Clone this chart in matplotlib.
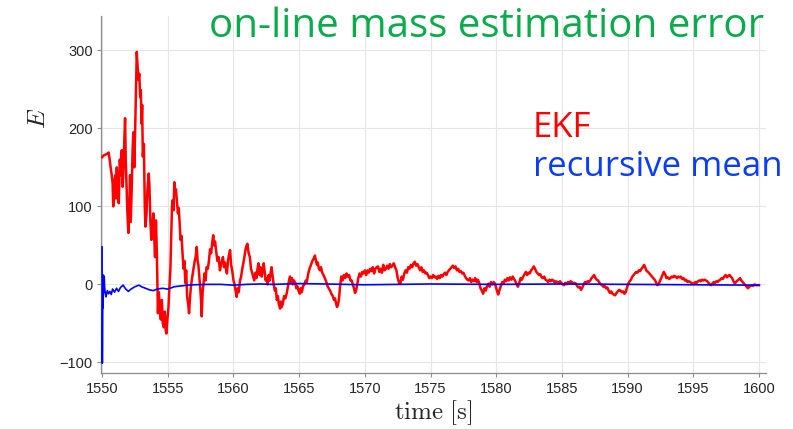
import matplotlib
matplotlib.use("Agg")
import matplotlib.pyplot as plt

# EKF on-line mass estimation error
ekf_time = [
    1550.00, 1550.10, 1550.20, 1550.35, 1550.50, 1550.58, 1550.65, 1550.72, 1550.80, 1550.85,
    1550.92, 1551.00, 1551.05, 1551.12, 1551.20, 1551.27, 1551.35, 1551.42, 1551.50, 1551.57,
    1551.63, 1551.70, 1551.75, 1551.80, 1551.87, 1551.93, 1552.00, 1552.07, 1552.13, 1552.18,
    1552.25, 1552.32, 1552.38, 1552.45, 1552.52, 1552.58, 1552.64, 1552.70, 1552.77, 1552.83,
    1552.90, 1552.95, 1553.00, 1553.05, 1553.10, 1553.18, 1553.25, 1553.30, 1553.38, 1553.45,
    1553.55, 1553.60, 1553.68, 1553.75, 1553.82, 1553.90, 1553.97, 1554.03, 1554.10, 1554.17,
    1554.25, 1554.32, 1554.40, 1554.47, 1554.55, 1554.62, 1554.70, 1554.77, 1554.85, 1554.90,
    1554.97, 1555.05, 1555.12, 1555.20, 1555.27, 1555.32, 1555.38, 1555.44, 1555.50, 1555.55,
    1555.62, 1555.70, 1555.77, 1555.83, 1555.90, 1555.97, 1556.05, 1556.12, 1556.20, 1556.27,
    1556.33, 1556.40, 1556.47, 1556.55, 1556.62, 1556.68, 1556.75, 1556.82, 1556.90, 1556.97,
    1557.05, 1557.12, 1557.20, 1557.27, 1557.33, 1557.40, 1557.47, 1557.53, 1557.58, 1557.65,
    1557.72, 1557.80, 1557.88, 1557.95, 1558.05, 1558.13, 1558.22, 1558.30, 1558.37, 1558.46,
    1558.53, 1558.60, 1558.70, 1558.78, 1558.87, 1558.97, 1559.05, 1559.12, 1559.20, 1559.28,
    1559.35, 1559.43, 1559.50, 1559.58, 1559.66, 1559.74, 1559.82, 1559.90, 1560.00, 1560.08,
    1560.16, 1560.24, 1560.32, 1560.40, 1560.50, 1560.58, 1560.67, 1560.75, 1560.83, 1560.92,
    1561.00, 1561.06, 1561.15, 1561.25, 1561.33, 1561.42, 1561.50, 1561.58, 1561.67, 1561.75,
    1561.83, 1561.90, 1561.98, 1562.06, 1562.15, 1562.23, 1562.30, 1562.38, 1562.45, 1562.52,
    1562.60, 1562.68, 1562.75, 1562.83, 1562.90, 1562.98, 1563.06, 1563.15, 1563.22, 1563.30,
    1563.38, 1563.45, 1563.55, 1563.62, 1563.67, 1563.75, 1563.85, 1563.95, 1564.06, 1564.15,
    1564.23, 1564.30, 1564.38, 1564.45, 1564.52, 1564.60, 1564.70, 1564.78, 1564.85, 1564.95,
    1565.05, 1565.12, 1565.20, 1565.30, 1565.40, 1565.50, 1565.58, 1565.67, 1565.75, 1565.83,
    1565.92, 1566.00, 1566.10, 1566.20, 1566.28, 1566.35, 1566.42, 1566.50, 1566.58, 1566.66,
    1566.75, 1566.85, 1566.95, 1567.05, 1567.15, 1567.25, 1567.35, 1567.45, 1567.55, 1567.65,
    1567.73, 1567.80, 1567.88, 1567.95, 1568.02, 1568.10, 1568.20, 1568.30, 1568.40, 1568.50,
    1568.60, 1568.70, 1568.80, 1568.90, 1569.00, 1569.08, 1569.17, 1569.25, 1569.33, 1569.42,
    1569.50, 1569.60, 1569.70, 1569.80, 1569.90, 1570.00, 1570.10, 1570.20, 1570.30, 1570.40,
    1570.50, 1570.60, 1570.70, 1570.80, 1570.90, 1571.00, 1571.10, 1571.20, 1571.30, 1571.40,
    1571.50, 1571.60, 1571.70, 1571.80, 1571.90, 1572.00, 1572.10, 1572.20, 1572.30, 1572.40,
    1572.50, 1572.60, 1572.70, 1572.80, 1572.90, 1573.00, 1573.10, 1573.20, 1573.30, 1573.40,
    1573.50, 1573.60, 1573.70, 1573.80, 1573.90, 1574.00, 1574.10, 1574.20, 1574.30, 1574.40,
    1574.50, 1574.60, 1574.70, 1574.80, 1574.90, 1575.00, 1575.10, 1575.20, 1575.30, 1575.40,
    1575.50, 1575.60, 1575.70, 1575.80, 1575.90, 1576.00, 1576.10, 1576.20, 1576.30, 1576.40,
    1576.50, 1576.60, 1576.70, 1576.80, 1576.90, 1577.00, 1577.10, 1577.20, 1577.30, 1577.40,
    1577.50, 1577.60, 1577.70, 1577.80, 1577.90, 1578.00, 1578.10, 1578.20, 1578.30, 1578.40,
    1578.50, 1578.60, 1578.70, 1578.80, 1578.90, 1579.00, 1579.10, 1579.20, 1579.30, 1579.40,
    1579.50, 1579.60, 1579.70, 1579.80, 1579.90, 1580.00, 1580.10, 1580.15, 1580.25, 1580.35,
    1580.45, 1580.55, 1580.65, 1580.75, 1580.85, 1580.95, 1581.05, 1581.15, 1581.25, 1581.35,
    1581.45, 1581.55, 1581.65, 1581.75, 1581.85, 1581.95, 1582.05, 1582.15, 1582.25, 1582.35,
    1582.45, 1582.55, 1582.65, 1582.75, 1582.85, 1582.95, 1583.05, 1583.15, 1583.25, 1583.35,
    1583.45, 1583.55, 1583.65, 1583.75, 1583.85, 1583.95, 1584.05, 1584.15, 1584.25, 1584.35,
    1584.45, 1584.55, 1584.65, 1584.75, 1584.85, 1584.95, 1585.05, 1585.15, 1585.25, 1585.35,
    1585.45, 1585.55, 1585.65, 1585.75, 1585.85, 1585.95, 1586.05, 1586.15, 1586.25, 1586.35,
    1586.45, 1586.55, 1586.65, 1586.75, 1586.85, 1586.95, 1587.05, 1587.15, 1587.25, 1587.35,
    1587.45, 1587.55, 1587.65, 1587.75, 1587.85, 1587.95, 1588.05, 1588.15, 1588.25, 1588.35,
    1588.45, 1588.55, 1588.65, 1588.75, 1588.85, 1588.95, 1589.05, 1589.15, 1589.25, 1589.35,
    1589.45, 1589.55, 1589.65, 1589.75, 1589.85, 1589.95, 1590.05, 1590.15, 1590.25, 1590.35,
    1590.45, 1590.55, 1590.65, 1590.75, 1590.85, 1590.95, 1591.05, 1591.15, 1591.25, 1591.35,
    1591.45, 1591.55, 1591.65, 1591.75, 1591.85, 1591.95, 1592.05, 1592.15, 1592.25, 1592.35,
    1592.45, 1592.55, 1592.65, 1592.75, 1592.85, 1592.95, 1593.05, 1593.15, 1593.25, 1593.35,
    1593.45, 1593.55, 1593.65, 1593.75, 1593.85, 1593.95, 1594.05, 1594.15, 1594.25, 1594.35,
    1594.45, 1594.55, 1594.65, 1594.75, 1594.85, 1594.95, 1595.05, 1595.15, 1595.25, 1595.35,
    1595.45, 1595.55, 1595.65, 1595.75, 1595.85, 1595.95, 1596.05, 1596.15, 1596.25, 1596.35,
    1596.45, 1596.55, 1596.65, 1596.75, 1596.85, 1596.95, 1597.05, 1597.15, 1597.25, 1597.35,
    1597.45, 1597.55, 1597.65, 1597.75, 1597.85, 1597.95, 1598.05, 1598.15, 1598.25, 1598.35,
    1598.45, 1598.55, 1598.65, 1598.75, 1598.85, 1598.95, 1599.05, 1599.15, 1599.25, 1599.35,
    1599.45, 1599.55, 1599.65, 1599.75, 1599.85, 1600.00,
]
ekf_error = [
    163, 165, 166, 167, 169, 160, 150, 142, 130, 100,
    128, 140, 110, 150, 118, 104, 160, 140, 172, 125,
    150, 185, 213, 160, 121, 91, 66, 100, 140, 80,
    120, 170, 195, 150, 200, 250, 298, 280, 262, 270,
    240, 249, 206, 230, 164, 180, 100, 74, 90, 121,
    142, 128, 80, 57, 70, 91, 60, 35, 82, 40,
    -37, -10, -30, -45, -20, -50, -55, -35, -60, -63,
    -45, -30, -5, 20, 70, 100, 108, 95, 131, 115,
    122, 105, 91, 98, 80, 57, 62, 40, 20, 30,
    2, 18, -15, -25, -37, -20, -5, 5, 14, 22,
    30, 35, 48, 30, 25, 10, -5, -20, -41, -10,
    1, 14, 5, 22, 20, 30, 45, 40, 52, 63,
    50, 55, 40, 30, 35, 18, 25, 30, 35, 22,
    28, 20, 14, 30, 38, 44, 25, 18, 5, 0,
    -8, -16, -5, -10, 5, 10, 20, 27, 35, 45,
    50, 52, 40, 35, 20, 15, 10, 5, 15, 8,
    20, 27, 12, 22, 10, 18, 27, 15, 5, 8,
    0, 12, 5, 15, 22, 10, 0, -8, -5, -20,
    -15, -25, -31, -22, -29, -25, -15, -18, -11, -2,
    5, 10, 3, 8, 0, 5, 2, -5, -2, -8,
    -12, -5, -10, -2, 0, 5, 3, 12, 18, 22,
    26, 30, 33, 37, 30, 25, 28, 20, 18, 22,
    15, 12, 8, 4, -2, -5, -8, -12, -15, -20,
    -18, -24, -29, -26, -20, -5, 10, 5, 12, 8,
    14, 10, 12, 5, 5, 0, -5, -11, -8, 0,
    8, 14, 10, 16, 14, 18, 12, 18, 15, 20,
    17, 22, 14, 20, 22, 23, 16, 20, 15, 25,
    18, 20, 24, 20, 26, 22, 24, 27, 22, 18,
    8, 2, 1, 10, 6, 14, 18, 15, 22, 20,
    25, 22, 27, 29, 24, 26, 22, 18, 22, 16,
    18, 14, 15, 12, 8, 10, 8, 12, 9, 10,
    7, 11, 8, 12, 10, 13, 15, 12, 16, 18,
    20, 22, 24, 21, 23, 18, 20, 16, 17, 14,
    15, 11, 8, 6, 5, 8, 3, 6, 4, 8,
    3, 6, 2, -5, -8, -12, -5, -8, -2, 1,
    -3, 3, 0, 3, 1, -5, -11, -13, -7, -2,
    3, 1, 6, 4, 8, 5, 9, 6, 10, 7,
    4, 0, -3, 2, 8, 6, 10, 13, 16, 12,
    15, 14, 18, 20, 23, 20, 16, 14, 12, 13,
    9, 8, 10, 6, 5, 3, 6, 4, 6, 5,
    2, 4, 3, 1, 4, 2, 0, -1, 2, 0,
    3, 1, 4, 3, 1, 2, 1, -2, -4, -3,
    -7, -4, 0, 3, 2, 4, 3, 5, 8, 10,
    12, 8, 6, 5, 2, 0, -1, -3, -2, -5,
    -4, -8, -11, -9, -12, -13, -14, -11, -9, -7,
    -8, -10, -9, -12, -10, -4, 1, 4, 6, 10,
    12, 14, 16, 15, 18, 17, 20, 22, 25, 21,
    17, 16, 14, 12, 10, 8, 6, 3, -1, 0,
    4, 8, 12, 16, 13, 8, 9, 7, 8, 10,
    9, 11, 10, 8, 10, 9, 10, 7, 8, 5,
    6, 3, 4, 3, 2, 1, 1, 3, 2, 4,
    5, 4, 6, 5, 6, 5, 4, 2, 0, -1,
    1, 3, 2, 4, 3, 5, 6, 8, 7, 10,
    12, 9, 11, 12, 10, 8, 4, 1, 3, 5,
    6, 8, 5, 3, 1, -1, -3, -5, -3, -2,
    -1, -2, 0, -1, -1, -1,
]

# recursive mean estimation error
mean_time = [
    1550.00, 1550.02, 1550.04, 1550.06, 1550.08, 1550.10, 1550.13, 1550.16, 1550.20, 1550.25,
    1550.30, 1550.40, 1550.50, 1550.60, 1550.70, 1550.80, 1550.95, 1551.10, 1551.25, 1551.40,
    1551.60, 1551.80, 1552.00, 1552.20, 1552.50, 1552.80, 1553.00, 1553.30, 1553.60, 1553.90,
    1554.20, 1554.60, 1555.00, 1555.50, 1556.00, 1556.50, 1557.00, 1558.00, 1559.00, 1560.00,
    1561.00, 1562.00, 1563.00, 1565.00, 1567.00, 1570.00, 1575.00, 1580.00, 1585.00, 1590.00,
    1595.00, 1600.00,
]
mean_error = [
    48, -101, -40, 5, -30, 12, -10, 10, -5, -12,
    -16, -8, -12, -9, -13, -6, -10, -5, -9, -4,
    -1, -6, -9, -6, -3, -1, -3, -5, -7, -8,
    -6, -5, -6, -3, -2, -1, -0.5, 0, 0, -1,
    0, 0.5, 0, 1, 0.5, -0.5, 0.5, 0, 0.5, 0,
    -0.5, -1,
]

x_ticks = [1550, 1555, 1560, 1565, 1570, 1575, 1580, 1585, 1590, 1595, 1600]
y_ticks = [-100, 0, 100, 200, 300]

plt.rcParams["mathtext.fontset"] = "cm"

fig = plt.figure(figsize=(7.93, 4.29), dpi=100)
ax = fig.add_axes([0.1274, 0.1298, 0.8386, 0.8329])

ax.plot(ekf_time, ekf_error, color="#ff0000", lw=1.8, zorder=3)
ax.plot(mean_time, mean_error, color="#0000ff", lw=1.2, zorder=4)

ax.set_xlim(1549.92, 1600.53)
ax.set_ylim(-114, 344)
ax.set_xticks(x_ticks)
ax.set_yticks(y_ticks)
ax.grid(True, color="#e6e6e6", lw=0.8, zorder=0)
ax.set_axisbelow(True)

for side in ("top", "right"):
    ax.spines[side].set_visible(False)
for side in ("left", "bottom"):
    ax.spines[side].set_color("#8c8c8c")
    ax.spines[side].set_linewidth(0.9)

ax.tick_params(direction="out", length=3, width=0.8, color="#8c8c8c",
               labelcolor="#262626", labelsize=10.5, pad=3)
for lbl in ax.get_xticklabels() + ax.get_yticklabels():
    lbl.set_family("Liberation Sans")

ax.set_xlabel(r"$\mathrm{time}\ [\mathrm{s}]$", fontsize=18, color="#262626", labelpad=2)
ax.set_ylabel(r"$E$", fontsize=18, color="#262626")
ax.yaxis.set_label_coords(-0.076, 0.712)

fig.text(0.2636, 0.9138, "on-line mass estimation error", color="#0aab4a",
         fontsize=29, family="Open Sans", ha="left", va="baseline")
fig.text(0.672, 0.6807, "EKF", color="#ff0000",
         fontsize=25, family="Open Sans", ha="left", va="baseline")
fig.text(0.672, 0.5904, "recursive mean", color="#0b3df5",
         fontsize=25, family="Open Sans", ha="left", va="baseline")

fig.savefig("out.png", dpi=100)
